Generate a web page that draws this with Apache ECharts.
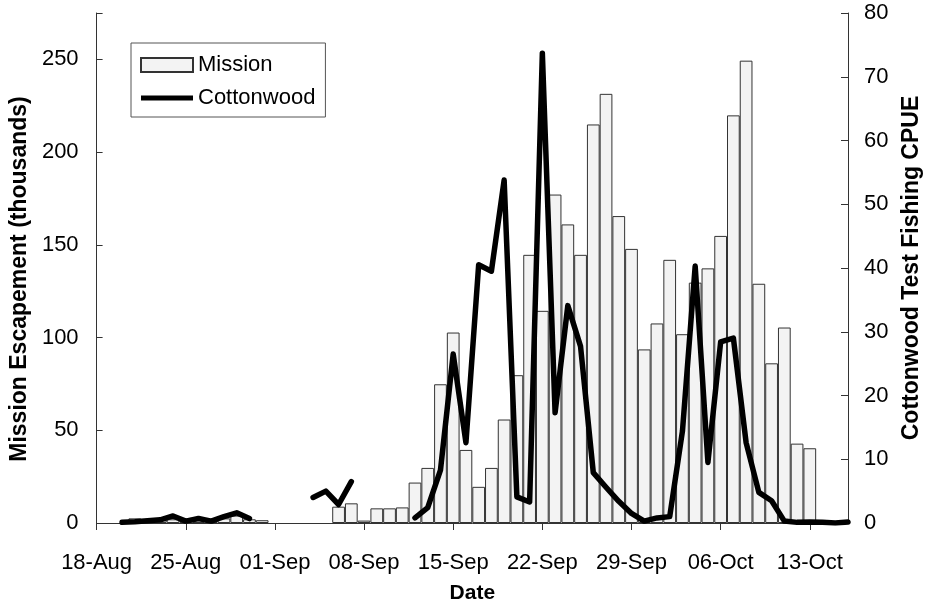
<!DOCTYPE html>
<html>
<head>
<meta charset="utf-8">
<script src="https://cdn.jsdelivr.net/npm/echarts@6/dist/echarts.min.js"></script>
<style>
html,body{margin:0;padding:0;background:#fff;}
#chart{width:931px;height:609px;}
</style>
</head>
<body>
<div id="chart"></div>
<script>
const categories = [
  "18-Aug","19-Aug","20-Aug","21-Aug","22-Aug","23-Aug","24-Aug","25-Aug","26-Aug","27-Aug","28-Aug","29-Aug","30-Aug","31-Aug",
  "01-Sep","02-Sep","03-Sep","04-Sep","05-Sep","06-Sep","07-Sep","08-Sep","09-Sep","10-Sep","11-Sep","12-Sep","13-Sep","14-Sep","15-Sep",
  "16-Sep","17-Sep","18-Sep","19-Sep","20-Sep","21-Sep","22-Sep","23-Sep","24-Sep","25-Sep","26-Sep","27-Sep","28-Sep","29-Sep","30-Sep",
  "01-Oct","02-Oct","03-Oct","04-Oct","05-Oct","06-Oct","07-Oct","08-Oct","09-Oct","10-Oct","11-Oct","12-Oct","13-Oct","14-Oct","15-Oct","16-Oct"
];
const tickLabels = ["18-Aug","25-Aug","01-Sep","08-Sep","15-Sep","22-Sep","29-Sep","06-Oct","13-Oct"];

// Mission escapement (thousands), one value per day
const mission = [
  null, null, null, 2.5, 1.5, 1.5, 2, 1.5, 1.5, 1.5, 2.5, 4, 2, 1.5,
  null, null, null, null, null, 8.8, 10.6, 1.3, 7.9, 7.9, 8.4, 21.8, 29.7, 74.8, 102.7,
  39.4, 19.5, 29.7, 55.8, 79.7, 144.6, 114.4, 177.1, 161.0, 144.6, 214.9, 231.4, 165.5, 147.8, 93.6,
  107.6, 141.9, 101.8, 129.6, 137.3, 154.8, 219.8, 249.3, 129.0, 86.1, 105.4, 42.8, 40.3, null, null, null
];

// Cottonwood test fishing CPUE, one value per day (null = not fished)
const cottonwood = [
  null, null, 0.1, 0.2, 0.35, 0.5, 1.1, 0.3, 0.7, 0.3, 1.0, 1.6, 0.7, null,
  null, null, null, 4.0, 5.0, 2.9, 6.5, null, null, null, null, 0.8, 2.4, 8.3, 26.5,
  12.6, 40.5, 39.5, 53.8, 4.1, 3.3, 73.7, 17.3, 34.1, 27.7, 7.9, 5.6, 3.4, 1.5, 0.3,
  0.8, 1.0, 14.4, 40.3, 9.5, 28.4, 29.0, 12.6, 4.8, 3.5, 0.3, 0.1, 0.15, 0.1, 0, 0.15
];

const leftTicks = [0, 50, 100, 150, 200, 250];
const rightTicks = [0, 10, 20, 30, 40, 50, 60, 70, 80];

const FONT = "'Liberation Sans', Arial, sans-serif";
const AXIS_COLOR = '#333';

const chart = echarts.init(document.getElementById('chart'), null, {renderer: 'canvas'});
chart.setOption({
  animation: false,
  backgroundColor: '#fff',
  textStyle: {fontFamily: FONT, color: '#000'},
  grid: {left: 96, right: 79, top: 13, bottom: 83, containLabel: false},
  legend: {
    orient: 'vertical',
    left: 131, top: 43,
    padding: [11, 10, 8, 9],
    itemGap: 11,
    itemWidth: 52, itemHeight: 14,
    borderColor: '#555', borderWidth: 1,
    backgroundColor: '#fff',
    textStyle: {fontFamily: FONT, fontSize: 22, color: '#000'},
    data: [
      {name: 'Mission', icon: 'rect'},
      {name: 'Cottonwood', icon: 'path://M0,0 M52,14 M0,4.5 L52,4.5 L52,9.5 L0,9.5 Z',
       itemStyle: {color: '#000', borderWidth: 0}}
    ]
  },
  xAxis: {
    type: 'category',
    data: categories,
    boundaryGap: false,
    axisLine: {lineStyle: {color: AXIS_COLOR, width: 1}},
    axisTick: {show: true, inside: false, length: 7, lineStyle: {color: AXIS_COLOR},
      interval: function (i, v) { return tickLabels.indexOf(v) >= 0; }},
    axisLabel: {fontFamily: FONT, fontSize: 22, color: '#000', margin: 29,
      interval: function (i, v) { return tickLabels.indexOf(v) >= 0; }},
    splitLine: {show: false},
    name: 'Date',
    nameLocation: 'middle',
    nameGap: 60,
    nameTextStyle: {fontFamily: FONT, fontSize: 21, fontWeight: 'bold', color: '#000'}
  },
  yAxis: [
    {
      type: 'value', min: 0, max: 275, interval: 50, position: 'left',
      axisLine: {show: true, lineStyle: {color: AXIS_COLOR, width: 1}},
      axisTick: {show: true, inside: true, length: 6, lineStyle: {color: AXIS_COLOR}},
      axisLabel: {fontFamily: FONT, fontSize: 22, color: '#000', margin: 18,
        formatter: function (v) { return leftTicks.indexOf(v) >= 0 ? String(v) : ''; }},
      splitLine: {show: false},
      name: 'Mission Escapement (thousands)',
      nameLocation: 'middle', nameGap: 61, nameRotate: 90,
      nameTextStyle: {fontFamily: FONT, fontSize: 23, fontWeight: 'bold', color: '#000',
        padding: [0, 22, 0, 0]}
    },
    {
      type: 'value', min: 0, max: 80, interval: 10, position: 'right',
      axisLine: {show: true, lineStyle: {color: AXIS_COLOR, width: 1}},
      axisTick: {show: true, inside: true, length: 7, lineStyle: {color: AXIS_COLOR}},
      axisLabel: {fontFamily: FONT, fontSize: 22, color: '#000', margin: 16,
        formatter: function (v) { return rightTicks.indexOf(v) >= 0 ? String(v) : ''; }},
      splitLine: {show: false},
      name: 'Cottonwood Test Fishing CPUE',
      nameLocation: 'middle', nameGap: 52, nameRotate: 90,
      nameTextStyle: {fontFamily: FONT, fontSize: 23, fontWeight: 'bold', color: '#000'}
    }
  ],
  series: [
    {
      name: 'Mission', type: 'bar', yAxisIndex: 0,
      data: mission,
      barCategoryGap: '0%',
      itemStyle: {color: '#f3f3f3', borderColor: '#333', borderWidth: 1},
      z: 2
    },
    {
      name: 'Cottonwood', type: 'line', yAxisIndex: 1,
      data: cottonwood,
      connectNulls: false,
      symbol: 'none',
      lineStyle: {color: '#000', width: 5.5, cap: 'round', join: 'round'},
      itemStyle: {color: '#000', borderWidth: 0},
      z: 3
    }
  ]
});
</script>
</body>
</html>
